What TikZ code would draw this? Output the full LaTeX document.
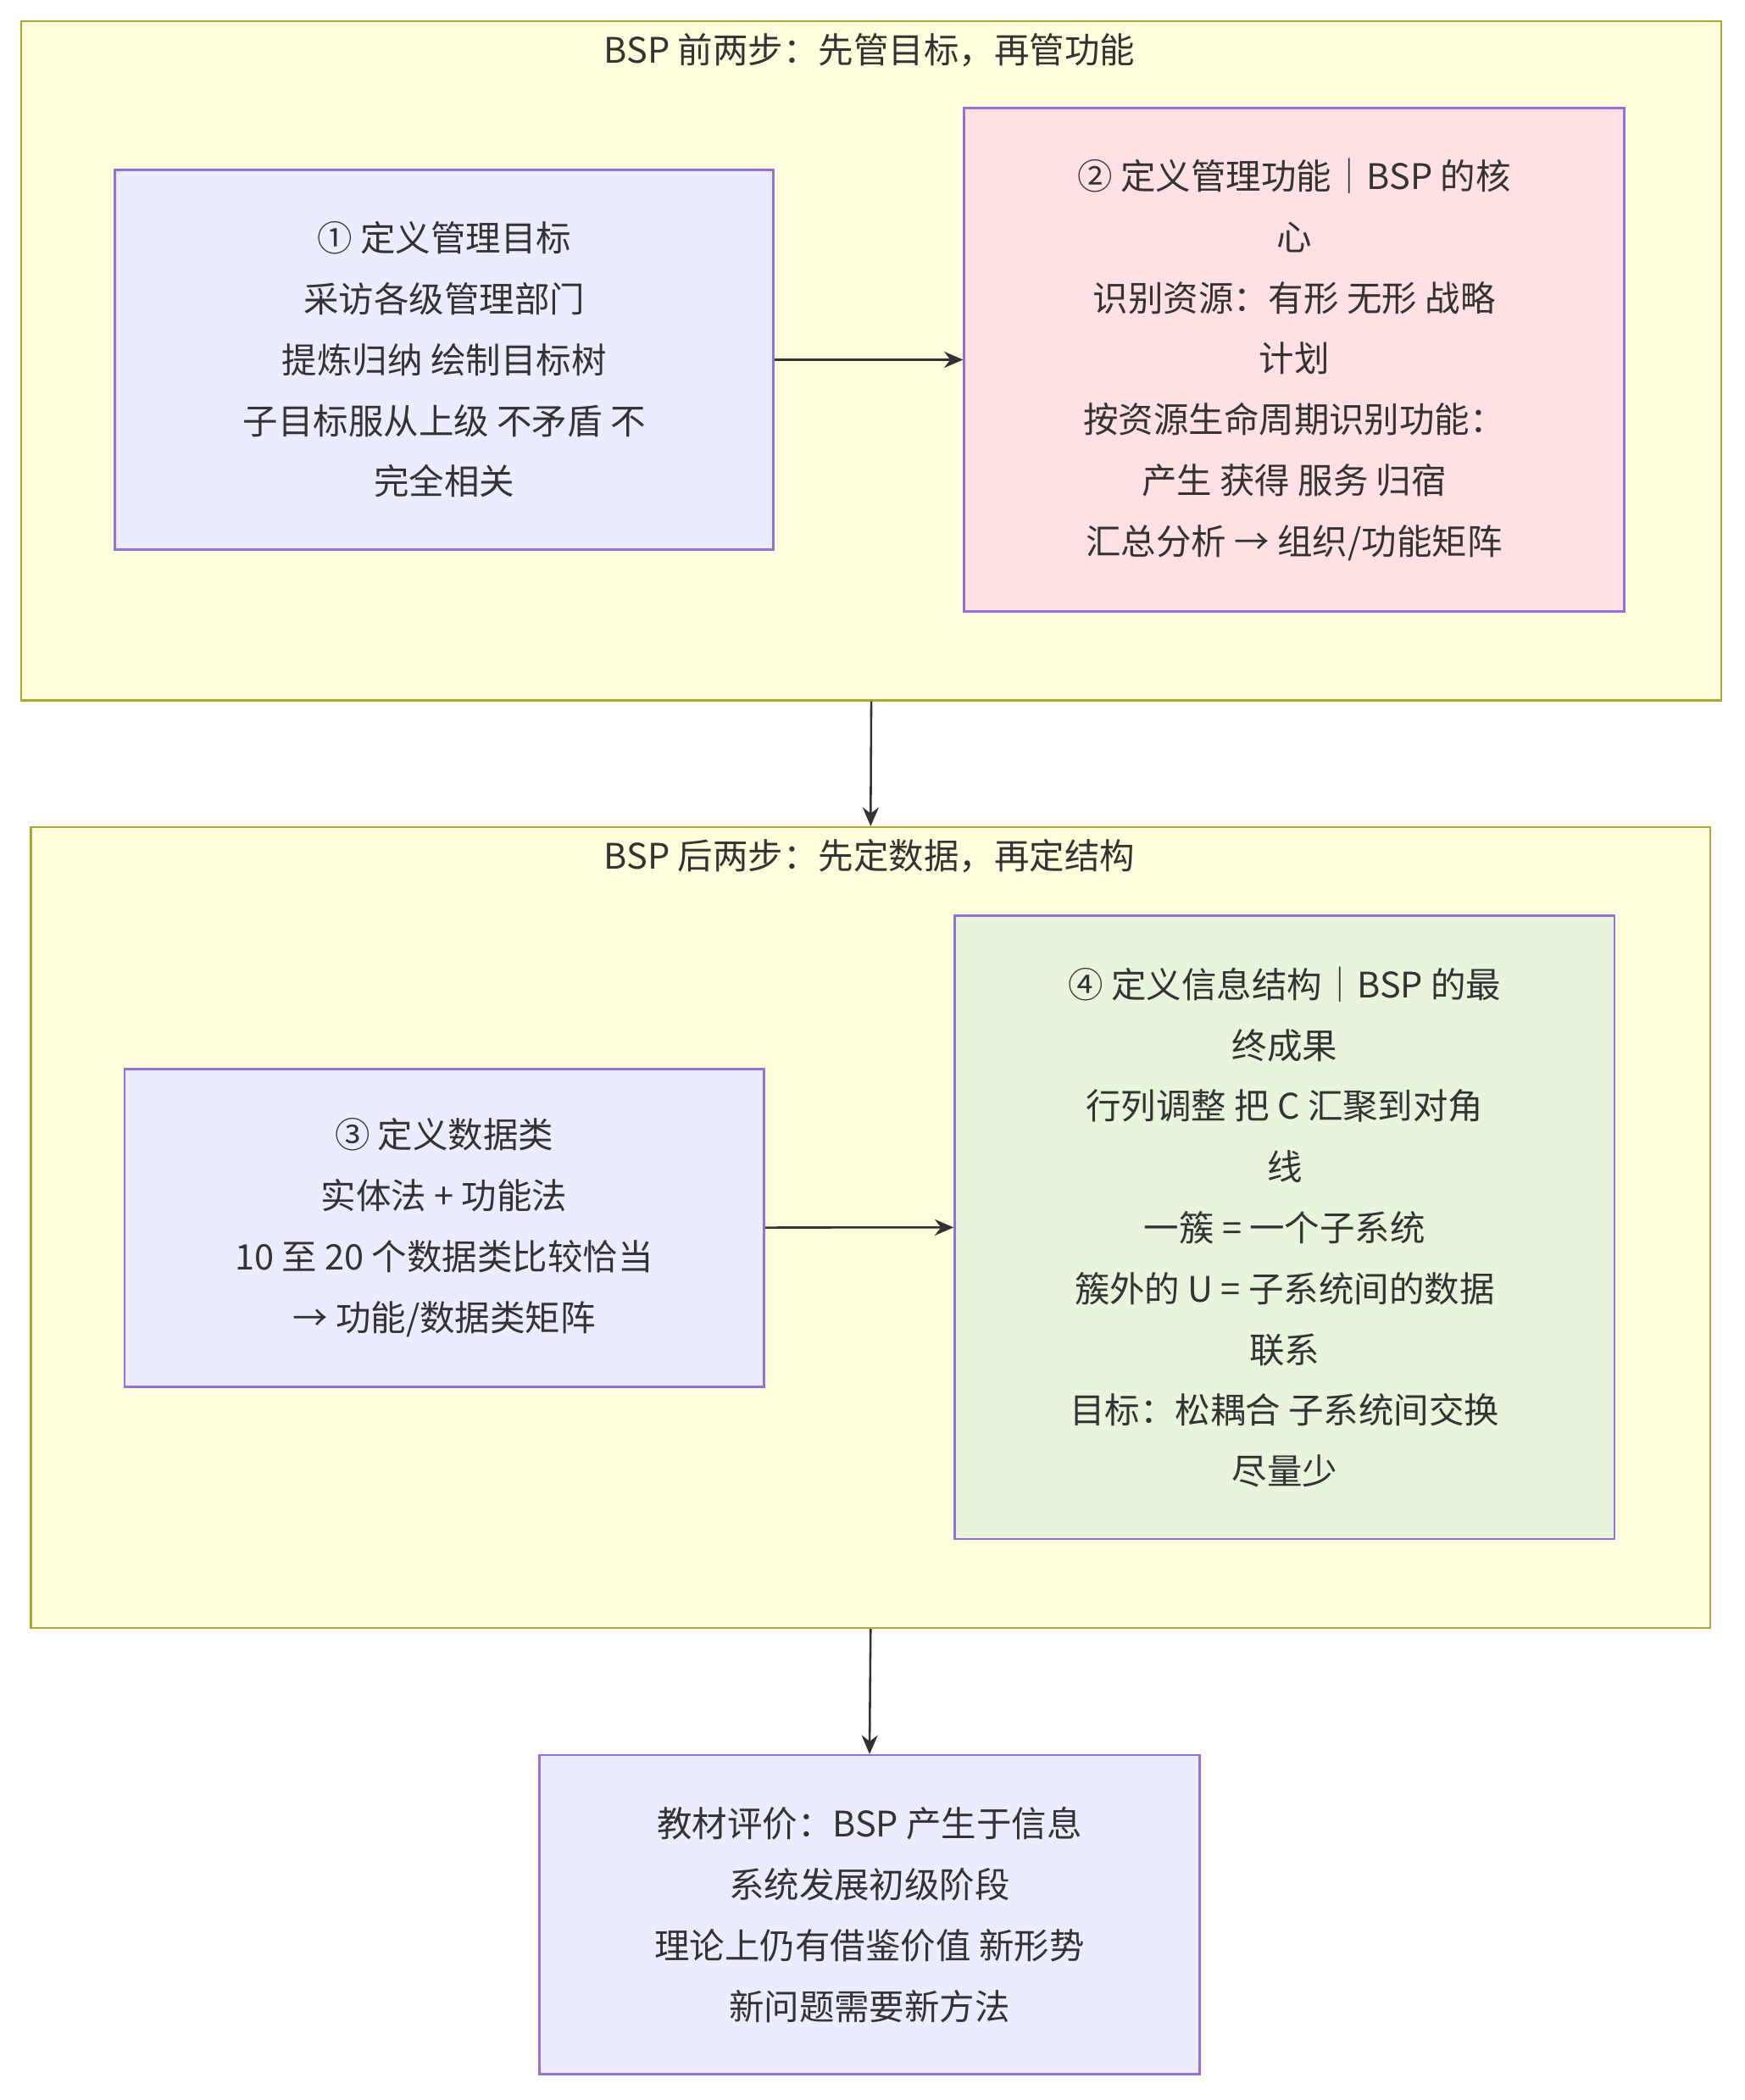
\documentclass[tikz,border=0pt]{standalone}
\usepackage{fontspec}
\setmainfont{Noto Sans CJK SC}
\usetikzlibrary{arrows.meta}
\definecolor{grpfill}{HTML}{FFFFDE}
\definecolor{grpline}{HTML}{AAAA33}
\definecolor{nfill}{HTML}{ECECFF}
\definecolor{nline}{HTML}{9370DB}
\definecolor{pinkf}{HTML}{FFE0E3}
\definecolor{greenf}{HTML}{E8F4DC}
\definecolor{txt}{HTML}{333333}
\begin{document}
\begin{tikzpicture}[x=0.5pt,y=-0.5pt,
  grp/.style={draw=grpline,fill=grpfill,line width=0.8pt},
  box/.style={draw=nline,fill=nfill,line width=0.8pt,text=txt,align=center,font=\fontsize{13}{22.5}\selectfont},
  ttl/.style={text=txt,font=\fontsize{13}{16}\selectfont},
  arr/.style={draw=txt,line width=0.8pt,-{Stealth[length=7pt,width=6pt]}}]
\useasboundingbox (0,0) rectangle (1290,1553);
\node[grp,minimum width=628.5pt,minimum height=251pt,anchor=north west] (g1) at (15,15) {};
\node[ttl] (t1) at (643,37) {BSP 前两步：先管目标，再管功能};
\node[box,minimum width=243.5pt,minimum height=140.5pt] (n1) at (328.5,266) {① 定义管理目标\\采访各级管理部门\\提炼归纳 绘制目标树\\子目标服从上级 不矛盾 不\\完全相关};
\node[box,fill=pinkf,minimum width=244pt,minimum height=186pt] (n2) at (957,266) {② 定义管理功能｜BSP 的核\\心\\识别资源：有形 无形 战略\\计划\\按资源生命周期识别功能：\\产生 获得 服务 归宿\\汇总分析 → 组织/功能矩阵};
\draw[arr] (n1) -- (n2);
\node[grp,minimum width=621pt,minimum height=296pt,anchor=north west] (g2) at (22,611) {};
\node[ttl] (t2) at (643,633) {BSP 后两步：先定数据，再定结构};
\node[box,minimum width=236.5pt,minimum height=117.5pt] (n3) at (328.5,908) {③ 定义数据类\\实体法 + 功能法\\10 至 20 个数据类比较恰当\\→ 功能/数据类矩阵};
\node[box,fill=greenf,minimum width=244pt,minimum height=230.5pt] (n4) at (950,907.5) {④ 定义信息结构｜BSP 的最\\终成果\\行列调整 把 C 汇聚到对角\\线\\一簇 = 一个子系统\\簇外的 U = 子系统间的数据\\联系\\目标：松耦合 子系统间交换\\尽量少};
\draw[arr] (n3) -- (n4);
\node[box,minimum width=244pt,minimum height=118pt] (n5) at (643,1416) {教材评价：BSP 产生于信息\\系统发展初级阶段\\理论上仍有借鉴价值 新形势\\新问题需要新方法};
\draw[arr] (g1.south) -- (g2.north);
\draw[arr] (g2.south) -- (n5.north);
\end{tikzpicture}
\end{document}
